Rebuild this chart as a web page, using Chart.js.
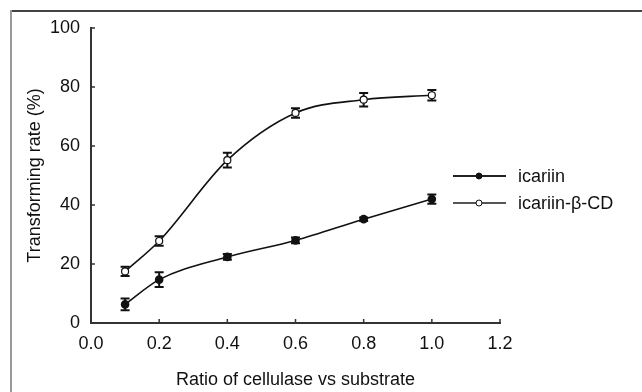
<!DOCTYPE html>
<html lang="en">
<head>
    <meta charset="UTF-8">
    <title>Transforming rate</title>
    <style>
        html, body { margin: 0; padding: 0; background: #fff; }
        #wrap { width: 642px; height: 392px; position: relative; }
    </style>
</head>
<body>
    <div id="wrap"><canvas id="chart"></canvas></div>

    <script src="https://cdn.jsdelivr.net/npm/chart.js"></script>
    <script>
        // data
        const ratios = [0.1, 0.2, 0.4, 0.6, 0.8, 1.0];
        const icariin = [6.3, 14.7, 22.4, 28.0, 35.2, 42.0];
        const icariinErr = [2.0, 2.5, 1.0, 1.0, 0.6, 1.6];
        const icariinCD = [17.5, 27.8, 55.2, 71.2, 75.7, 77.2];
        const icariinCDErr = [1.6, 1.6, 2.5, 1.6, 2.3, 1.8];
        const xTicks = [0.0, 0.2, 0.4, 0.6, 0.8, 1.0, 1.2];
        const yTicks = [0, 20, 40, 60, 80, 100];
        const seriesNames = ['icariin', 'icariin-\u03b2-CD'];

        const font = 'Arial, "Liberation Sans", sans-serif';
        const axisColor = '#333';

        const pts = (xs, ys) => xs.map((x, i) => ({ x: x, y: ys[i] }));

        // frame around the figure, inward ticks, error bars, legend
        const extras = {
            id: 'extras',
            beforeDraw(chart) {
                const ctx = chart.ctx;
                ctx.save();
                ctx.strokeStyle = '#444';
                ctx.lineWidth = 2;
                ctx.beginPath();
                ctx.moveTo(11, 11);
                ctx.lineTo(642, 11);
                ctx.stroke();
                ctx.strokeStyle = '#999';
                ctx.beginPath();
                ctx.moveTo(11, 10);
                ctx.lineTo(11, 392);
                ctx.stroke();
                ctx.restore();
            },
            beforeDatasetsDraw(chart) {
                const ctx = chart.ctx;
                const xs = chart.scales.x, ys = chart.scales.y;
                ctx.save();
                ctx.strokeStyle = '#111';
                ctx.lineWidth = 2;
                const errs = [icariinErr, icariinCDErr];
                chart.data.datasets.forEach((ds, d) => {
                    ds.data.forEach((p, i) => {
                        const px = xs.getPixelForValue(p.x);
                        const top = ys.getPixelForValue(p.y + errs[d][i]);
                        const bot = ys.getPixelForValue(p.y - errs[d][i]);
                        ctx.beginPath();
                        ctx.moveTo(px, top); ctx.lineTo(px, bot);
                        ctx.moveTo(px - 4.5, top); ctx.lineTo(px + 4.5, top);
                        ctx.moveTo(px - 4.5, bot); ctx.lineTo(px + 4.5, bot);
                        ctx.stroke();
                    });
                });
                ctx.restore();
            },
            afterDraw(chart) {
                const ctx = chart.ctx;
                const xs = chart.scales.x, ys = chart.scales.y;
                const a = chart.chartArea;
                ctx.save();
                ctx.strokeStyle = axisColor;
                ctx.lineWidth = 1.5;
                ctx.beginPath();
                xTicks.forEach(v => {
                    const px = xs.getPixelForValue(v);
                    ctx.moveTo(px, a.bottom); ctx.lineTo(px, a.bottom - 4);
                });
                yTicks.forEach(v => {
                    const py = ys.getPixelForValue(v);
                    ctx.moveTo(a.left, py); ctx.lineTo(a.left + 4, py);
                });
                ctx.stroke();

                // legend
                const rows = [176, 203];
                chart.data.datasets.forEach((ds, d) => {
                    const y = rows[d];
                    ctx.strokeStyle = d === 0 ? '#222' : '#555';
                    ctx.lineWidth = 2;
                    ctx.beginPath();
                    ctx.moveTo(453, y); ctx.lineTo(506, y);
                    ctx.stroke();
                    ctx.beginPath();
                    ctx.arc(479, y, 3, 0, Math.PI * 2);
                    ctx.fillStyle = ds.pointBackgroundColor;
                    ctx.fill();
                    ctx.lineWidth = 1;
                    ctx.strokeStyle = '#111';
                    ctx.stroke();
                    ctx.fillStyle = '#111';
                    ctx.font = '18px ' + font;
                    ctx.textBaseline = 'middle';
                    ctx.fillText(ds.label, 518, y + 1);
                });
                ctx.restore();
            }
        };

        new Chart(document.getElementById('chart'), {
            type: 'line',
            data: {
                datasets: [
                    {
                        label: seriesNames[0],
                        data: pts(ratios, icariin),
                        borderColor: '#111',
                        borderWidth: 1.6,
                        pointBackgroundColor: '#111',
                        pointBorderColor: '#111',
                        pointRadius: 3.5,
                        cubicInterpolationMode: 'monotone'
                    },
                    {
                        label: seriesNames[1],
                        data: pts(ratios, icariinCD),
                        borderColor: '#111',
                        borderWidth: 1.6,
                        pointBackgroundColor: '#fff',
                        pointBorderColor: '#111',
                        pointBorderWidth: 1.2,
                        pointRadius: 3.5,
                        cubicInterpolationMode: 'monotone'
                    }
                ]
            },
            options: {
                responsive: true,
                maintainAspectRatio: false,
                animation: false,
                events: [],
                layout: { padding: { top: 28, right: 142, left: 0, bottom: 0 } },
                plugins: { legend: { display: false }, tooltip: { enabled: false } },
                scales: {
                    x: {
                        type: 'linear',
                        min: 0,
                        max: 1.2,
                        afterBuildTicks: s => { s.ticks = xTicks.map(v => ({ value: v })); },
                        afterFit: s => { s.height = 69; },
                        border: { color: axisColor, width: 2 },
                        grid: { display: false, drawTicks: false },
                        ticks: {
                            padding: 10,
                            color: '#111',
                            font: { family: font, size: 18 },
                            callback: v => v.toFixed(1)
                        },
                        title: {
                            display: true,
                            text: 'Ratio of cellulase vs substrate',
                            color: '#111',
                            font: { family: font, size: 18 },
                            padding: { top: 0, bottom: 1 }
                        }
                    },
                    y: {
                        min: 0,
                        max: 100,
                        afterBuildTicks: s => { s.ticks = yTicks.map(v => ({ value: v })); },
                        afterFit: s => { s.width = 91; },
                        border: { color: axisColor, width: 2 },
                        grid: { display: false, drawTicks: false },
                        ticks: {
                            padding: 11,
                            color: '#111',
                            font: { family: font, size: 18 }
                        },
                        title: {
                            display: true,
                            text: 'Transforming rate (%)',
                            color: '#111',
                            font: { family: font, size: 18 },
                            padding: { top: 24, bottom: 0 }
                        }
                    }
                }
            },
            plugins: [extras]
        });
    </script>
</body>
</html>
